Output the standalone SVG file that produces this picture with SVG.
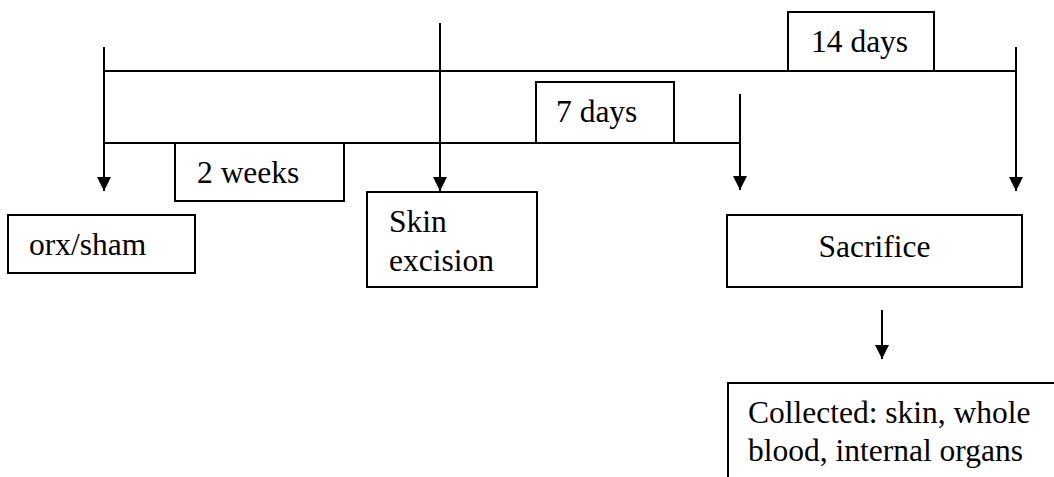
<svg xmlns="http://www.w3.org/2000/svg" width="1054" height="477" viewBox="0 0 1054 477">
<style>
.box{fill:#fff;stroke:#000;stroke-width:2}
.ln{stroke:#000;stroke-width:2;fill:none}
text{font-family:'Liberation Serif','Times New Roman','DejaVu Serif',serif;font-size:31.5px;fill:#000}
</style>
<defs>
<marker id="ah" markerUnits="userSpaceOnUse" markerWidth="16" markerHeight="16" refX="14" refY="7" orient="auto" viewBox="0 0 16 16">
<path d="M0,0 L14,7 L0,14 Z" fill="#000"/>
</marker>
</defs>
<rect width="1054" height="477" fill="#fff"/>
<g id="connectors">
<line class="ln" x1="104" y1="71" x2="1016" y2="71"/>
<line class="ln" x1="104" y1="143" x2="740" y2="143"/>
<line class="ln" x1="104" y1="47" x2="104" y2="191" marker-end="url(#ah)"/>
<line class="ln" x1="440" y1="23" x2="440" y2="191" marker-end="url(#ah)"/>
<line class="ln" x1="740" y1="94" x2="740" y2="190" marker-end="url(#ah)"/>
<line class="ln" x1="1016" y1="47" x2="1016" y2="191" marker-end="url(#ah)"/>
<line class="ln" x1="882" y1="310" x2="882" y2="359" marker-end="url(#ah)"/>
</g>
<g id="n14days">
<rect class="box" x="788" y="12" width="146" height="59"/>
<text x="811" y="52" font-family="Liberation Serif, serif">14 days</text>
</g>
<g id="n7days">
<rect class="box" x="536" y="82" width="138" height="61"/>
<text x="556" y="122" font-family="Liberation Serif, serif">7 days</text>
</g>
<g id="n2weeks">
<rect class="box" x="175" y="143" width="169" height="58"/>
<text x="197" y="183" font-family="Liberation Serif, serif">2 weeks</text>
</g>
<g id="orxsham">
<rect class="box" x="8" y="215" width="187" height="58"/>
<text x="29" y="255" font-family="Liberation Serif, serif">orx/sham</text>
</g>
<g id="skinexcision">
<rect class="box" x="367" y="192" width="170" height="95"/>
<text x="389" y="232" font-family="Liberation Serif, serif">Skin</text>
<text x="389" y="271" font-family="Liberation Serif, serif">excision</text>
</g>
<g id="sacrifice">
<rect class="box" x="727" y="215" width="295" height="72"/>
<text x="874.5" y="257" text-anchor="middle" font-family="Liberation Serif, serif">Sacrifice</text>
</g>
<g id="collected">
<rect class="box" x="728" y="383" width="340" height="120"/>
<text x="748" y="423" font-family="Liberation Serif, serif">Collected: skin, whole</text>
<text x="748" y="461" font-family="Liberation Serif, serif">blood, internal organs</text>
</g>
</svg>
